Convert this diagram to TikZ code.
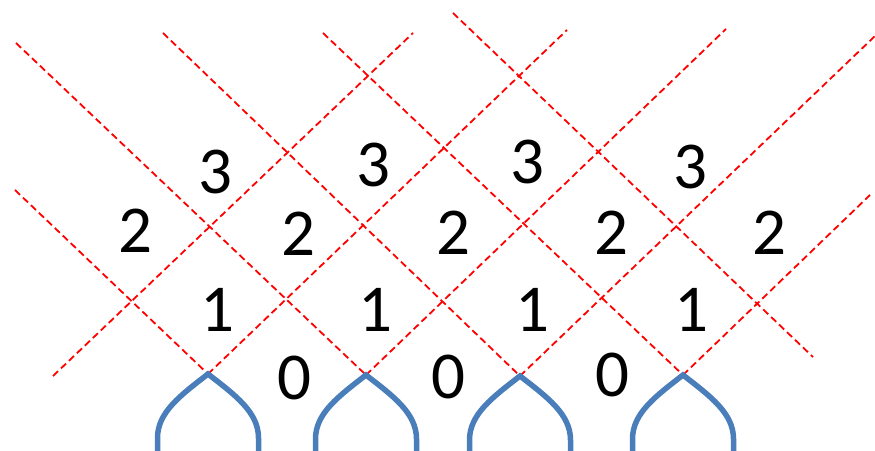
\documentclass[tikz,border=0pt]{standalone}
\usepackage{fontspec}
\setmainfont{Carlito}
\definecolor{archblue}{RGB}{74,126,187}
\begin{document}
\begin{tikzpicture}[x=1pt,y=-1pt,
  guide/.style={draw=red,line width=1.8pt,dash pattern=on 7pt off 4pt},
  archline/.style={draw=archblue,line width=5.5pt,line join=miter},
  num/.style={font=\fontsize{67}{70}\selectfont,inner sep=0pt,text=black}]
\useasboundingbox (0,0) rectangle (875,450);
% apexes
\coordinate (A1) at (208,374);
\coordinate (A2) at (366,375);
\coordinate (A3) at (520,376);
\coordinate (A4) at (683,375);
% free ends
\coordinate (p1) at (53,376);  \coordinate (q1) at (413,33);
\coordinate (q2) at (567,30);
\coordinate (q3) at (726,29);
\coordinate (q4) at (875,36);
\coordinate (q5) at (870,195);
\coordinate (ra) at (16,43);
\coordinate (rb) at (163,33);
\coordinate (rc) at (323,33);
\coordinate (rd) at (453,13);  \coordinate (sd) at (813,357);
\coordinate (re) at (15,190);
% "/" lines
\draw[guide] (p1) -- (q1);
\draw[guide] (A1) -- (q2);
\draw[guide] (A2) -- (q3);
\draw[guide] (A3) -- (q4);
\draw[guide] (A4) -- (q5);
% "\" lines
\draw[guide] (ra) -- (A2);
\draw[guide] (rb) -- (A3);
\draw[guide] (rc) -- (A4);
\draw[guide] (rd) -- (sd);
\draw[guide] (re) -- (A1);
% arches
\foreach \a in {A1,A2,A3,A4}{
  \draw[archline] ([shift={(-50.5,77)}]\a) -- ([shift={(-50.5,64)}]\a)
    .. controls ([shift={(-50.5,38)}]\a) and ([shift={(-27,21)}]\a) .. (\a)
    .. controls ([shift={(27,21)}]\a) and ([shift={(50.5,38)}]\a) .. ([shift={(50.5,64)}]\a)
    -- ([shift={(50.5,77)}]\a);
}
% numbers
\node[num] (t1) at (215,172) {3};
\node[num] (t2) at (373,165) {3};
\node[num] (t3) at (527,162) {3};
\node[num] (t4) at (690,167) {3};
\node[num] (w1) at (135,231) {2};
\node[num] (w2) at (298,234) {2};
\node[num] (w3) at (453,233) {2};
\node[num] (w4) at (611,233) {2};
\node[num] (w5) at (769,233) {2};
\node[num] (o1) at (217,310) {1};
\node[num] (o2) at (375,310) {1};
\node[num] (o3) at (532,310) {1};
\node[num] (o4) at (691,310) {1};
\node[num] (z1) at (294,378) {0};
\node[num] (z2) at (448,377) {0};
\node[num] (z3) at (612,375) {0};
\end{tikzpicture}
\end{document}
